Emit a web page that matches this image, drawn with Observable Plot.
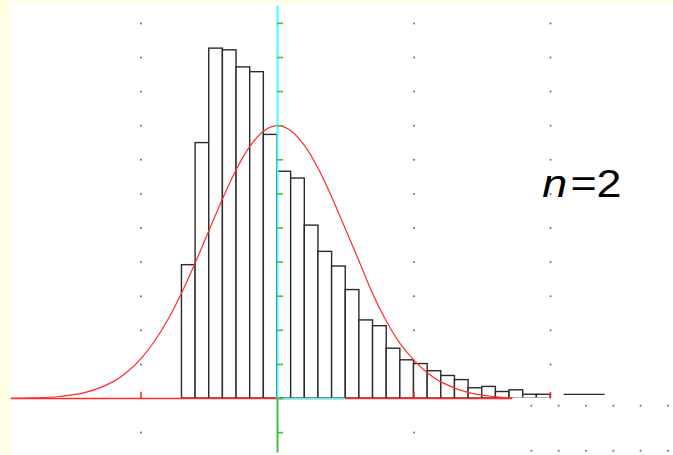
<!DOCTYPE html>
<html>
<head>
<meta charset="utf-8">
<script src="https://cdn.jsdelivr.net/npm/d3@7"></script>
<script src="https://cdn.jsdelivr.net/npm/@observablehq/plot@0.6"></script>
<style>
  html, body { margin: 0; padding: 0; background: #ffffe6; }
  body { width: 673px; height: 455px; overflow: hidden; }
  #chart { position: absolute; left: 10px; top: 3px; }
  #chart svg { display: block; background: #ffffff; }
</style>
</head>
<body>
<div id="chart"></div>
<script>
// Histogram bins (left edge) and densities
const binLeft = [-0.7,-0.6,-0.5,-0.4,-0.3,-0.2,-0.1,0.0,0.1,0.2,0.3,0.4,0.5,0.6,0.7,0.8,0.9,1.0,1.1,1.2,1.3,1.4,1.5,1.6,1.7,1.8,1.9];
const binDensity = [0.391,0.749,1.026,1.021,0.971,0.957,0.773,0.665,0.645,0.507,0.430,0.387,0.318,0.229,0.212,0.146,0.112,0.101,0.080,0.066,0.054,0.030,0.034,0.019,0.024,0.011,0.011];
const binWidth = 0.1;

// far tail (thin segment)
const tailX = [2.1, 2.4];
const tailY = 0.012;

// Normal curve
const curveX = [-1.95,-1.8,-1.6,-1.4,-1.2,-1.1,-1.0,-0.9,-0.8,-0.7,-0.6,-0.5,-0.4,-0.3,-0.2,-0.1,0,0.1,0.2,0.3,0.4,0.5,0.6,0.7,0.8,0.9,1.0,1.1,1.2,1.4,1.6,1.72];
const curveY = [0.0005,0.0016,0.0058,0.0185,0.0502,0.0782,0.117,0.1686,0.2338,0.3119,0.4005,0.4947,0.5882,0.6729,0.7408,0.7848,0.8,0.7848,0.7408,0.6729,0.5882,0.4947,0.4005,0.305,0.225,0.160,0.112,0.075,0.048,0.017,0.005,0.002];

// Axes
const xAxisExtent = [-1.95, 1.72];
const cyanSegment = [0, 0.5];
const yAxisTop = 1.15;
const yAxisBottom = -0.16;
const xTickValues = [-1, 1, 2];
const yTickValues = [-0.1,0,0.1,0.2,0.3,0.4,0.5,0.6,0.7,0.8,0.9,1.0,1.1];

// Grid dots
const gridXs = [-1, 1, 2];
const gridYs = [0.1,0.2,0.3,0.4,0.5,0.6,0.7,0.8,0.9,1.0,1.1];
const lowerGridXs = [-1, 1];
const lowerGridY = -0.1;
const cornerDotXs = [1.86, 2.06, 2.26, 2.46, 2.66, 2.86];
const cornerDotYs = [-0.021, -0.153];

// Label
const labelItalic = "n";
const labelRest = "=2";
const labelPos = {x: 1.94, xRest: 2.115, y: 0.591};

// Build tables
const bars = binLeft.map((x, i) => ({x1: x, x2: x + binWidth, y: binDensity[i]}));
const curve = curveX.map((x, i) => ({x, y: curveY[i]}));
const grid = [];
for (const gx of gridXs) for (const gy of gridYs) grid.push({x: gx, y: gy});
for (const gx of lowerGridXs) grid.push({x: gx, y: lowerGridY});
const corner = [];
for (const cy of cornerDotYs) for (const cx of cornerDotXs) corner.push({x: cx, y: cy});

const red = "#ff2b2b", cyan = "#44ffff", green = "#3dc23d";

const chart = Plot.plot({
  width: 663,
  height: 452,
  margin: 0,
  x: {type: "linear", domain: [0, 1], range: [267, 403.5], axis: null},
  y: {type: "linear", domain: [0, 1], range: [395, 54], axis: null},
  style: {background: "white", overflow: "visible"},
  marks: [
    Plot.dot(grid, {x: "x", y: "y", r: 1, fill: "#6a6a6a", stroke: null}),
    Plot.dot(corner, {x: "x", y: "y", r: 1, fill: "#6a6a6a", stroke: null}),
    Plot.rectY(bars, {x1: "x1", x2: "x2", y1: 0, y2: "y", fill: "white", stroke: "#2a2a2a", strokeWidth: 1.4}),
    Plot.ruleY([0], {x1: xAxisExtent[1], x2: 2.0, stroke: "white", strokeWidth: 2}),
    Plot.ruleY([tailY], {x1: tailX[0], x2: tailX[1], stroke: "#2a2a2a", strokeWidth: 1.4}),
    Plot.line(curve, {x: "x", y: "y", stroke: red, strokeWidth: 1.2, curve: "catmull-rom"}),
    Plot.ruleY([0], {x1: xAxisExtent[0], x2: xAxisExtent[1], stroke: red, strokeWidth: 1.6}),
    Plot.ruleY([0], {x1: cyanSegment[0], x2: cyanSegment[1], stroke: cyan, strokeWidth: 1.6}),
    Plot.ruleX(xTickValues, {y1: 0, y2: 0.018, stroke: red, strokeWidth: 1.6}),
    Plot.ruleX([0], {y1: 0, y2: yAxisTop, stroke: cyan, strokeWidth: 2}),
    Plot.ruleX([0], {y1: yAxisBottom, y2: 0, stroke: green, strokeWidth: 2}),
    Plot.ruleY(yTickValues, {x1: 0, x2: 0.045, stroke: green, strokeWidth: 1.6}),
    Plot.text([labelItalic], {x: labelPos.x, y: labelPos.y, text: d => d, fontSize: 38, fontStyle: "italic", fontFamily: "Liberation Sans, Arial, sans-serif", textAnchor: "start", lineAnchor: "bottom", fill: "black", className: "nlabel"}),
    Plot.text([labelRest], {x: labelPos.xRest, y: labelPos.y, text: d => d, fontSize: 38, fontFamily: "Liberation Sans, Arial, sans-serif", textAnchor: "start", lineAnchor: "bottom", fill: "black", className: "nlabel"})
  ]
});
document.getElementById("chart").appendChild(chart);

// widen the label horizontally (reference glyphs are broader)
const svgRect = chart.getBoundingClientRect();
const texts = chart.querySelectorAll("g.nlabel text, .nlabel text");
let left = Infinity;
texts.forEach(t => { left = Math.min(left, t.getBoundingClientRect().left - svgRect.left); });
texts.forEach(t => {
  const existing = t.getAttribute("transform") || "";
  t.setAttribute("transform", `translate(${left},0) scale(1.18,1) translate(${-left},0) ${existing}`);
});
</script>
</body>
</html>
